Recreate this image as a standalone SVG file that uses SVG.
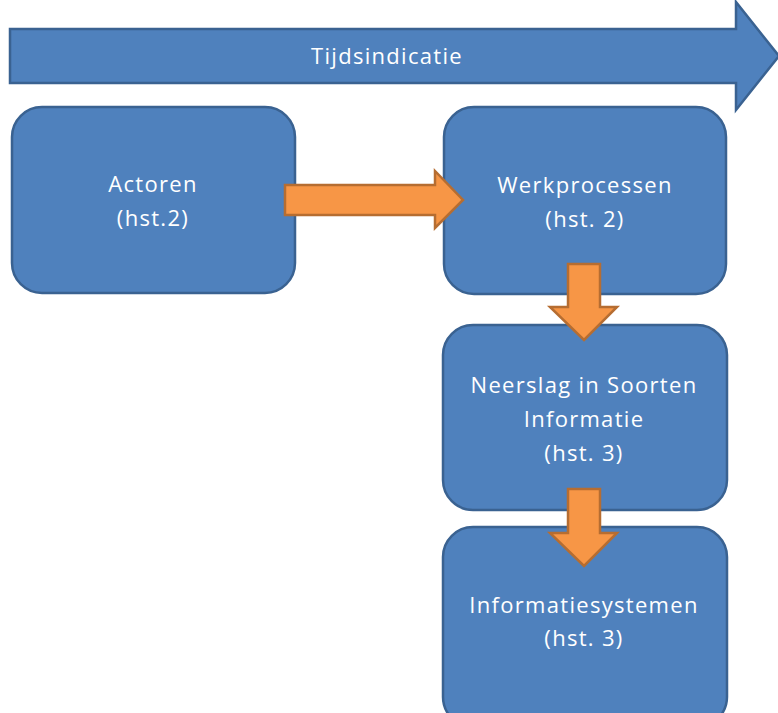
<svg xmlns="http://www.w3.org/2000/svg" width="778" height="713" viewBox="0 0 778 713">
<style>
.box{fill:#4F81BD;stroke:#3A6291;stroke-width:2.5}
.arr{fill:#F79646;stroke:#B66D31;stroke-width:2.5;stroke-linejoin:miter}
.t{font-family:"Open Sans","Liberation Sans",sans-serif;font-size:22px;letter-spacing:1.3px;fill:#FFFFFF;text-anchor:middle}
</style>
<rect width="778" height="713" fill="#FFFFFF"/>
<g id="tijd">
<polygon class="box" points="10,29 736,29 736,2 779,56 736,110 736,83 10,83"/>
<text class="t" x="387" y="64">Tijdsindicatie</text>
</g>
<g id="actoren">
<rect class="box" x="12" y="107" width="283" height="186" rx="30"/>
<text class="t" x="153" y="192">Actoren</text>
<text class="t" x="153" y="226">(hst.2)</text>
</g>
<g id="werkprocessen">
<rect class="box" x="444" y="107" width="282" height="187" rx="30"/>
<text class="t" x="585" y="193">Werkprocessen</text>
<text class="t" x="585" y="227">(hst. 2)</text>
</g>
<g id="neerslag">
<rect class="box" x="443" y="325" width="284" height="185" rx="30"/>
<text class="t" x="584" y="393">Neerslag in Soorten</text>
<text class="t" x="584" y="427">Informatie</text>
<text class="t" x="584" y="461">(hst. 3)</text>
</g>
<g id="informatiesystemen">
<rect class="box" x="443" y="527" width="284" height="200" rx="30"/>
<text class="t" x="584" y="613">Informatiesystemen</text>
<text class="t" x="584" y="646">(hst. 3)</text>
</g>
<g id="connectors">
<polygon class="arr" points="285,185 435,185 435,171 463,200 435,228 435,215 285,215"/>
<polygon class="arr" points="568,264 600,264 600,307 617,307 584,340 550,307 568,307"/>
<polygon class="arr" points="568,489 600,489 600,533 617,533 584,566 550,533 568,533"/>
</g>
</svg>
